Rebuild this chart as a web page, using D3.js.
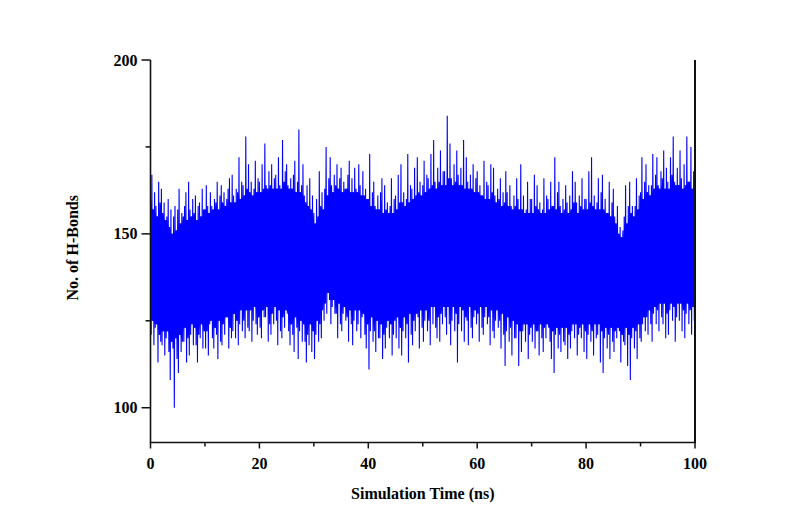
<!DOCTYPE html>
<html>
<head>
<meta charset="utf-8">
<script src="https://cdn.jsdelivr.net/npm/d3@7"></script>
<style>
  body { margin: 0; background: #fff; }
  text { font-family: "Liberation Serif", "Times New Roman", serif; font-weight: bold; }
</style>
</head>
<body>
<script>
// upper swings of the trace, four samples per ns (t = 0, 0.25, 0.5 ... 99.75)
let hiPeaks = [
  160,167,157,162, 158,155,165,159, 163,156,159,154, 155,160,152,157, 150,155,158,151,
  157,163,153,156, 155,158,162,154, 165,157,155,160, 156,161,154,158, 159,155,163,157,
  157,164,158,156, 162,158,157,160, 159,165,157,161, 164,159,162,158, 160,163,166,159,
  167,161,159,163, 162,172,160,165, 164,161,178,163, 170,162,165,161, 163,171,162,166,
  165,162,170,163, 176,164,163,168, 164,170,163,166, 167,163,172,164, 163,177,165,168,
  170,164,163,166, 163,167,171,162, 165,180,162,164, 170,161,159,164, 158,166,157,161,
  156,153,160,155, 168,158,162,157, 163,175,161,166, 172,164,162,167, 164,170,163,166,
  169,162,165,163, 163,167,171,162, 166,162,169,163, 162,170,164,161, 168,161,163,160,
  160,173,158,162, 165,158,157,161, 157,162,166,156, 164,157,159,156, 158,166,156,160,
  161,157,167,159, 170,159,162,158, 160,173,159,164, 163,160,169,161, 172,162,165,161,
  164,171,162,167, 166,163,173,164, 177,165,163,169, 165,174,164,168, 168,164,184,166,
  176,166,164,170, 165,174,167,164, 169,164,177,163, 172,165,163,167, 163,170,162,166,
  168,162,164,161, 161,171,160,165, 164,160,170,162, 169,161,159,163, 160,166,158,162,
  159,168,162,158, 164,158,157,161, 158,166,160,157, 170,157,161,156, 157,165,156,160,
  160,156,167,158, 164,157,159,156, 157,166,156,161, 160,157,165,158, 158,172,157,162,
  165,158,156,160, 157,164,159,156, 161,157,168,159, 165,159,156,161, 158,166,157,160,
  160,157,168,159, 172,158,161,157, 159,166,157,162, 167,157,160,156, 156,165,155,159,
  163,155,153,158, 150,152,149,151, 155,164,153,158, 165,156,158,155, 158,166,157,161,
  162,172,160,165, 170,162,164,161, 164,173,163,167, 172,164,163,168, 166,174,163,169,
  165,163,172,167, 178,165,164,169, 164,174,166,163, 170,164,178,165, 165,175,163,168
];

// lower swings of the trace, same sampling
let loPeaks = [
  121,125,118,123, 124,113,121,119, 118,122,115,120, 122,116,108,119, 117,100,120,114,
  110,121,116,119, 119,123,113,120, 115,121,124,118, 123,118,113,121, 120,124,117,122,
  117,122,115,124, 125,120,117,123, 121,114,125,119, 118,124,121,126, 126,117,123,120,
  122,127,120,125, 118,124,128,122, 125,120,128,123, 122,128,119,125, 129,124,121,126,
  123,120,128,126, 126,129,119,124, 121,127,124,129, 125,118,128,122, 120,126,123,128,
  127,122,118,124, 121,116,126,123, 114,122,125,119, 124,119,113,121, 118,124,116,122,
  114,121,125,119, 124,120,128,125, 130,127,133,131, 124,129,131,127, 127,120,130,124,
  122,127,129,125, 126,119,128,124, 118,125,128,122, 124,128,120,126, 127,121,117,124,
  111,122,126,119, 122,116,125,120, 120,124,114,121, 117,123,125,120, 124,115,121,125,
  120,126,117,123, 115,122,126,120, 124,113,127,121, 118,125,122,127, 126,117,128,123,
  119,125,128,122, 125,118,129,124, 129,123,120,126, 119,127,124,129, 126,121,129,124,
  118,125,129,122, 127,113,124,129, 122,128,119,126, 125,118,129,123, 120,126,128,124,
  127,119,129,123, 121,126,129,124, 126,118,128,122, 120,125,128,123, 125,117,127,121,
  112,122,126,119, 123,115,125,120, 120,124,112,122, 116,122,124,119, 124,114,121,123,
  119,124,117,122, 122,115,124,120, 116,123,120,124, 123,119,114,122, 110,121,123,117,
  121,116,123,119, 118,123,114,121, 117,122,124,120, 124,115,121,123, 120,124,116,122,
  114,121,124,119, 122,115,124,120, 121,124,113,122, 110,120,123,117, 121,114,123,119,
  116,122,120,123, 122,113,121,119, 118,123,112,121, 108,120,123,117, 122,114,124,120,
  119,124,126,122, 126,121,128,124, 119,127,129,124, 128,122,130,126, 124,130,120,127,
  121,128,130,125, 129,119,126,130, 125,130,122,128, 120,127,130,124, 128,121,129,125
];

let xTicks = [0, 20, 40, 60, 80, 100];
let xMinor = [10, 30, 50, 70, 90];
let yTicks = [100, 150, 200];
let yMinor = [125, 175];

let width = 792, height = 526;
let margin = {top: 60, right: 97, bottom: 83.5, left: 150.5};

let svg = d3.select("body")
    .append("svg")
    .attr("width", width)
    .attr("height", height);

let x = d3.scaleLinear().domain([0, 100]).range([margin.left, width - margin.right]);
let y = d3.scaleLinear().domain([90, 200]).range([height - margin.bottom, margin.top]);

let blue = "#0000ff";
let step = 100 / hiPeaks.length;

// the band every swing passes through (lowest nearby top / highest nearby bottom)
let band = hiPeaks.map((v, i) => {
    let a = Math.max(0, i - 1), b = Math.min(hiPeaks.length, i + 2);
    return {
        t: i * step + step / 4,
        top: d3.min(hiPeaks.slice(a, b)),
        bot: d3.max(loPeaks.slice(a, b))
    };
});

svg.append("path")
    .datum(band)
    .attr("fill", blue)
    .attr("d", d3.area()
        .x(d => x(d.t))
        .y0(d => y(d.bot))
        .y1(d => y(d.top)));

// trace: swing up to each top, then down to each bottom
let trace = [];
hiPeaks.forEach((v, i) => {
    trace.push({t: i * step, v: v});
    trace.push({t: i * step + step / 2, v: loPeaks[i]});
});

svg.append("path")
    .datum(trace)
    .attr("fill", "none")
    .attr("stroke", blue)
    .attr("stroke-width", 1.1)
    .attr("stroke-linejoin", "bevel")
    .attr("d", d3.line().x(d => x(d.t)).y(d => y(d.v)));

// axes
let x0 = x(0), x1 = x(100), yb = y(90), yt = y(200);
let ax = svg.append("g").attr("stroke", "#111");

ax.append("line").attr("x1", x0).attr("x2", x0).attr("y1", yt).attr("y2", yb).attr("stroke-width", 1.6);
ax.append("line").attr("x1", x1).attr("x2", x1).attr("y1", yt).attr("y2", yb).attr("stroke-width", 2);
ax.append("line").attr("x1", x0 - 0.8).attr("x2", x1 + 1).attr("y1", yb).attr("y2", yb).attr("stroke-width", 1.6);

ax.selectAll(".ym").data(yTicks).enter().append("line")
    .attr("x1", x0 - 9).attr("x2", x0).attr("y1", d => y(d)).attr("y2", d => y(d)).attr("stroke-width", 1.5);
ax.selectAll(".yn").data(yMinor).enter().append("line")
    .attr("x1", x0 - 5).attr("x2", x0).attr("y1", d => y(d)).attr("y2", d => y(d)).attr("stroke-width", 1.5);
ax.selectAll(".xm").data(xTicks).enter().append("line")
    .attr("x1", d => x(d)).attr("x2", d => x(d)).attr("y1", yb).attr("y2", yb + 6).attr("stroke-width", 1.5);
ax.selectAll(".xn").data(xMinor).enter().append("line")
    .attr("x1", d => x(d)).attr("x2", d => x(d)).attr("y1", yb).attr("y2", yb + 4).attr("stroke-width", 1.5);

svg.selectAll(".yl").data(yTicks).enter().append("text")
    .attr("x", x0 - 13).attr("y", d => y(d) + 5.5)
    .attr("text-anchor", "end").attr("font-size", 16)
    .text(d => d);
svg.selectAll(".xl").data(xTicks).enter().append("text")
    .attr("x", d => x(d)).attr("y", yb + 26)
    .attr("text-anchor", "middle").attr("font-size", 16)
    .text(d => d);

svg.append("text")
    .attr("x", (x0 + x1) / 2).attr("y", 499)
    .attr("text-anchor", "middle").attr("font-size", 16)
    .text("Simulation Time (ns)");

svg.append("text")
    .attr("transform", "translate(78," + y(146) + ") rotate(-90)")
    .attr("text-anchor", "middle").attr("font-size", 16)
    .text("No. of H-Bonds");
</script>
</body>
</html>
